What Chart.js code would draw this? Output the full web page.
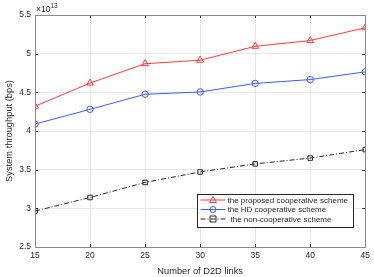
<!DOCTYPE html>
<html><head><meta charset="utf-8">
<script src="https://cdn.jsdelivr.net/npm/chart.js@4"></script>
<style>html,body{margin:0;padding:0;background:#fff}#c{display:block}</style>
</head><body>
<canvas id="c" width="374" height="277"></canvas>
<script>
const categories = [15, 20, 25, 30, 35, 40, 45];
const proposed = [4.32, 4.62, 4.87, 4.915, 5.095, 5.17, 5.335];
const hdCoop = [4.09, 4.28, 4.475, 4.505, 4.615, 4.665, 4.765];
const nonCoop = [2.965, 3.14, 3.335, 3.47, 3.575, 3.65, 3.76];
const yTicks = [2.5, 3, 3.5, 4, 4.5, 5, 5.5];
const seriesLabels = ['the proposed cooperative scheme', 'the HD cooperative scheme', 'the non-cooperative scheme'];
const xTitle = 'Number of D2D links';
const yTitle = 'System throughput (bps)';
const exponent = '13';

const FONT = 'Liberation Sans, Arial, sans-serif';
const TXT = '#262626';

const deco = {
  id: 'deco',
  afterDatasetsDraw(chart) {
    const ctx = chart.ctx, a = chart.chartArea;
    const xs = chart.scales.x, ys = chart.scales.y;
    ctx.save();
    ctx.strokeStyle = '#262626'; ctx.lineWidth = 1;
    ctx.beginPath();
    categories.forEach(v => {
      const px = Math.round(xs.getPixelForValue(v)) + 0.5;
      ctx.moveTo(px, a.bottom); ctx.lineTo(px, a.bottom - 3);
      ctx.moveTo(px, a.top); ctx.lineTo(px, a.top + 3);
    });
    yTicks.forEach(v => {
      const py = Math.round(ys.getPixelForValue(v)) + 0.5;
      ctx.moveTo(a.left, py); ctx.lineTo(a.left + 3, py);
      ctx.moveTo(a.right, py); ctx.lineTo(a.right - 3, py);
    });
    ctx.stroke();
    ctx.strokeStyle = '#8a8a8a'; ctx.lineWidth = 1;
    ctx.strokeRect(Math.round(a.left) + 0.5, Math.round(a.top) + 0.5, Math.round(a.right - a.left), Math.round(a.bottom - a.top));
    ctx.fillStyle = TXT; ctx.textBaseline = 'alphabetic'; ctx.textAlign = 'left';
    ctx.font = '8.5px ' + FONT;
    ctx.fillText('\u00d710', a.left + 1, a.top - 3);
    const w = ctx.measureText('\u00d710').width;
    ctx.font = '6.5px ' + FONT;
    ctx.fillText(exponent, a.left + 1 + w, a.top - 7);
    const lx = 197.5, ly = 194.5, lw = 156, lh = 33;
    ctx.fillStyle = '#fff'; ctx.fillRect(lx, ly, lw, lh);
    ctx.strokeStyle = '#262626'; ctx.lineWidth = 1; ctx.strokeRect(lx, ly, lw, lh);
    const rows = [200, 209.5, 219];
    chart.data.datasets.forEach((ds, i) => {
      const y = rows[i];
      ctx.strokeStyle = ds.borderColor; ctx.lineWidth = 1;
      ctx.setLineDash(ds.borderDash || []);
      ctx.beginPath(); ctx.moveTo(lx + 3, y); ctx.lineTo(lx + 28, y); ctx.stroke();
      ctx.setLineDash([]);
      const cx = lx + 15.5;
      ctx.beginPath();
      if (ds.pointStyle === 'triangle') { ctx.moveTo(cx, y - 3.5); ctx.lineTo(cx + 3.5, y + 2.5); ctx.lineTo(cx - 3.5, y + 2.5); ctx.closePath(); }
      else if (ds.pointStyle === 'circle') { ctx.arc(cx, y, 3, 0, Math.PI * 2); }
      else { ctx.rect(cx - 3, y - 3, 6, 6); }
      ctx.stroke();
      ctx.fillStyle = TXT; ctx.font = '8px ' + FONT; ctx.textBaseline = 'middle';
      ctx.fillText(ds.label, lx + (i === 2 ? 33 : 30), y + 0.5);
    });
    ctx.restore();
  }
};

new Chart(document.getElementById('c'), {
  type: 'line',
  data: {
    labels: categories,
    datasets: [
      { label: seriesLabels[0], data: proposed, borderColor: '#ff3b3b', backgroundColor: 'rgba(0,0,0,0)', pointStyle: 'triangle', pointRadius: 4, pointBorderWidth: 1, borderWidth: 1 },
      { label: seriesLabels[1], data: hdCoop, borderColor: '#3b5bff', backgroundColor: 'rgba(0,0,0,0)', pointStyle: 'circle', pointRadius: 3.2, pointBorderWidth: 1, borderWidth: 1 },
      { label: seriesLabels[2], data: nonCoop, borderColor: '#262626', backgroundColor: 'rgba(0,0,0,0)', pointStyle: 'rect', pointRadius: 3.2, pointBorderWidth: 1, borderWidth: 1, borderDash: [5, 2, 1, 2] }
    ]
  },
  options: {
    responsive: false, animation: false, devicePixelRatio: 1,
    layout: { padding: { top: 15, right: 5, left: 4, bottom: 0 } },
    plugins: { legend: { display: false }, tooltip: { enabled: false } },
    scales: {
      x: {
        type: 'linear', min: 15, max: 45,
        afterBuildTicks: s => { s.ticks = categories.map(v => ({ value: v })); },
        grid: { color: '#e6e6e6', drawTicks: false, lineWidth: 1 },
        border: { display: false },
        ticks: { color: TXT, font: { family: FONT, size: 8.5 }, padding: 4, maxRotation: 0, callback: v => String(v) },
        title: { display: true, text: xTitle, color: TXT, font: { family: FONT, size: 9.3 }, padding: { top: 1, bottom: 0 } },
        afterFit: s => { s.height = 30; }
      },
      y: {
        min: 2.5, max: 5.5,
        afterBuildTicks: s => { s.ticks = yTicks.map(v => ({ value: v })); },
        grid: { color: '#e6e6e6', drawTicks: false, lineWidth: 1 },
        border: { display: false },
        ticks: { color: TXT, font: { family: FONT, size: 8.5 }, padding: 4, callback: v => String(v) },
        title: { display: true, text: yTitle, color: TXT, font: { family: FONT, size: 9.3 }, padding: { top: 0, bottom: 2 } },
        afterFit: s => { s.width = 31; }
      }
    }
  },
  plugins: [deco]
});
</script>
</body></html>
